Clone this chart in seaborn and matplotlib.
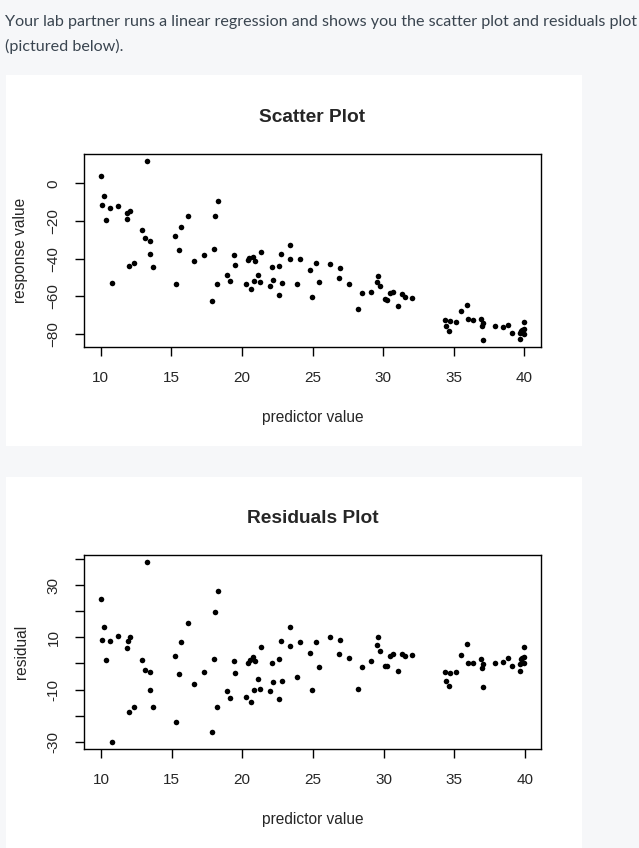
import numpy as np
import pandas as pd
import seaborn as sns
import matplotlib.pyplot as plt
from matplotlib.patches import Rectangle

# predictor values (shared by both plots)
predictor = [10.02, 10.23, 10.09, 10.65, 11.22, 10.37, 10.8, 11.86, 11.9, 12.07,
             12.0, 12.36, 13.26, 12.92, 13.14, 13.49, 13.49, 13.7, 15.24, 15.33,
             15.54, 15.68, 16.18, 16.6, 17.31, 17.88, 18.02, 18.09, 18.3, 18.23,
             18.93, 19.15, 19.43, 19.5, 20.28, 20.42, 20.53, 20.77, 20.92, 20.63,
             20.84, 21.13, 21.27, 21.34, 21.98, 22.12, 22.19, 22.62, 22.62, 22.76,
             22.83, 23.39, 23.39, 23.89, 24.1, 24.8, 24.95, 25.23, 25.45, 26.22,
             26.93, 26.86, 27.57, 28.2, 28.49, 29.13, 29.62, 29.55, 29.76, 30.12,
             30.26, 30.47, 30.68, 31.04, 31.32, 31.54, 32.03, 34.37, 34.44, 34.65,
             34.72, 35.15, 35.5, 35.92, 35.99, 36.35, 36.91, 36.98, 37.05, 37.05,
             37.9, 38.47, 38.82, 39.1, 39.67, 39.67, 39.74, 39.81, 39.95, 39.95,
             39.95]

response = [3.7, -6.9, -11.7, -13.2, -12.2, -19.6, -53.0, -19.1, -15.7, -14.8,
            -44.0, -42.4, 11.7, -24.9, -29.1, -30.7, -37.6, -44.5, -28.1, -53.5,
            -35.5, -23.3, -17.5, -41.3, -38.1, -62.5, -35.0, -17.5, -9.5, -53.5,
            -48.7, -51.9, -38.1, -43.4, -53.5, -40.8, -39.7, -39.2, -41.3, -56.2,
            -51.9, -48.7, -52.5, -36.6, -54.6, -44.5, -51.4, -44.0, -59.3, -37.6,
            -53.0, -32.8, -40.3, -53.5, -40.3, -46.1, -60.4, -42.4, -52.5, -42.9,
            -45.0, -50.3, -53.5, -66.8, -58.3, -57.7, -49.3, -52.5, -54.6, -61.5,
            -62.0, -58.3, -57.7, -65.2, -58.8, -60.4, -60.9, -72.6, -75.8, -78.4,
            -73.1, -73.6, -67.8, -64.6, -72.1, -72.6, -72.1, -75.8, -74.2, -83.2,
            -75.8, -76.3, -75.2, -79.5, -82.6, -79.5, -78.4, -77.9, -77.4, -73.6,
            -80.0]

residual = [24.6, 14.2, 9.1, 8.8, 10.7, 1.4, -30.2, 6.1, 8.8, 10.3,
            -18.6, -16.7, 38.8, 1.4, -2.4, -3.2, -10.1, -16.7, 3.0, -22.5,
            -4.0, 8.4, 15.7, -7.8, -3.2, -26.3, 1.8, 19.6, 27.7, -16.7,
            -10.5, -13.2, 1.0, -3.6, -12.8, 0.3, 1.4, 2.6, 1.0, -14.8,
            -10.1, -5.9, -9.8, 6.4, -10.5, 0.3, -7.1, 1.8, -13.6, 8.8,
            -6.7, 14.2, 6.8, -5.1, 8.4, 4.1, -10.1, 8.4, -1.3, 10.3,
            9.1, 3.7, 2.2, -9.8, -1.3, 1.0, 10.3, 7.2, 4.9, -0.9,
            -0.9, 3.0, 3.7, -2.8, 3.7, 3.0, 3.4, -3.2, -6.7, -8.6,
            -3.6, -3.2, 3.4, 7.6, 0.3, 0.3, 1.8, -1.7, -0.1, -9.0,
            0.3, 0.7, 2.2, -0.9, -2.8, -0.1, 1.8, 2.2, 2.6, 6.4,
            0.3]

x_ticks = [10, 15, 20, 25, 30, 35, 40]
scatter_yticks = [0, -20, -40, -60, -80]
resid_yticks = [40, 30, 20, 10, 0, -10, -20, -30]
resid_ylabels = ["", "30", "", "10", "", "-10", "", "-30"]

df = pd.DataFrame({"predictor": predictor, "response": response, "residual": residual})

sns.set_style("white")
plt.rcParams['font.family'] = ['Liberation Sans', 'DejaVu Sans']

W, H = 639, 848
fig = plt.figure(figsize=(W / 100, H / 100), dpi=100)
fig.patch.set_facecolor("#f6f7f9")

# white cards behind each plot
for top, bottom in [(75, 446), (477, 848)]:
    fig.patches.append(Rectangle((6 / W, 1 - bottom / H), 576 / W, (bottom - top) / H,
                                 transform=fig.transFigure, facecolor="white",
                                 edgecolor="none", zorder=-5))

fig.text(5 / W, 1 - 22 / H,
         "Your lab partner runs a linear regression and shows you the scatter plot and residuals plot",
         family="Lato", fontsize=11.6, color="#3a4550", va="center", ha="left")
fig.text(5 / W, 1 - 46 / H, "(pictured below).",
         family="Lato", fontsize=11.6, color="#3a4550", va="center", ha="left")


def style_axes(ax, title, ylabel):
    ax.set_facecolor("white")
    for s in ax.spines.values():
        s.set_visible(True)
        s.set_color("black")
        s.set_linewidth(1.0)
    ax.margins(x=0.04, y=0.04)
    ax.set_xticks(x_ticks)
    ax.tick_params(axis="both", which="both", direction="out", length=6.5, width=1,
                   color="black", labelsize=11, pad=10.5, left=True, bottom=True)
    ax.set_title(title, fontsize=13.8, fontweight="bold", pad=23)
    ax.set_xlabel("predictor value", fontsize=11.2, labelpad=18)
    ax.set_ylabel(ylabel, fontsize=11.2, labelpad=13)
    for lab in ax.get_yticklabels():
        lab.set_rotation(90)
        lab.set_va("center")


ax1 = fig.add_axes([84 / W, 1 - 347 / H, 456.7 / W, 192.7 / H])
sns.scatterplot(data=df, x="predictor", y="response", ax=ax1, color="black",
                s=16, linewidth=0)
ax1.set_yticks(scatter_yticks)
style_axes(ax1, "Scatter Plot", "response value")

ax2 = fig.add_axes([84.3 / W, 1 - 749.3 / H, 456.7 / W, 194 / H])
sns.scatterplot(data=df, x="predictor", y="residual", ax=ax2, color="black",
                s=16, linewidth=0)
ax2.set_yticks(resid_yticks)
ax2.set_yticklabels(resid_ylabels)
style_axes(ax2, "Residuals Plot", "residual")

fig.savefig("out.png", dpi=100, facecolor=fig.get_facecolor())
